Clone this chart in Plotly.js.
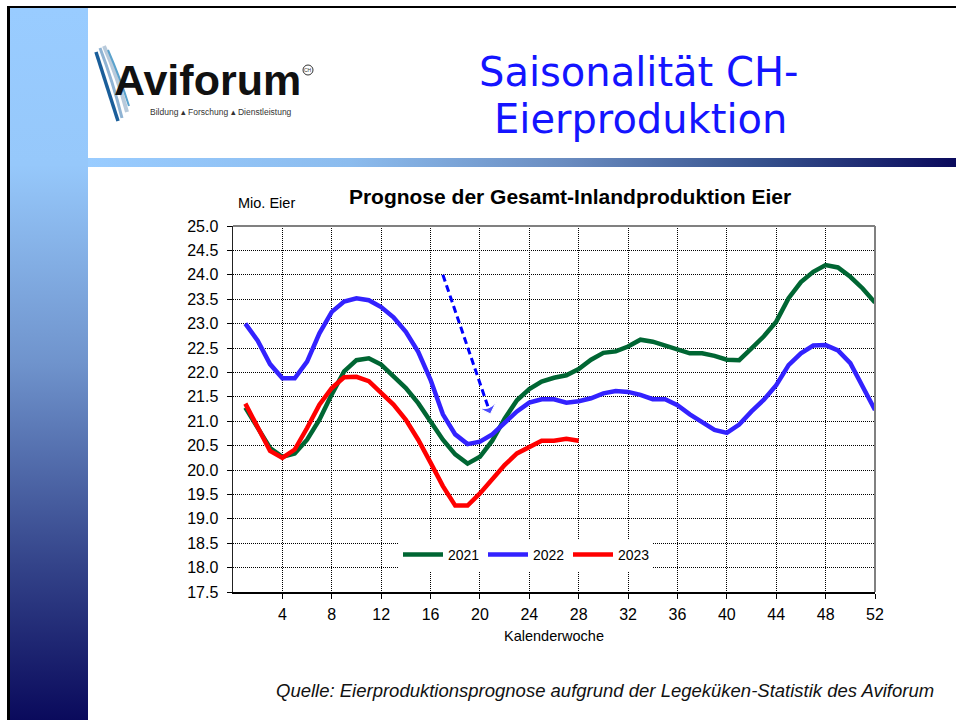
<!DOCTYPE html>
<html>
<head>
<meta charset="utf-8">
<script src="https://cdn.plot.ly/plotly-3.0.1.min.js"></script>
<style>
html,body{margin:0;padding:0;background:#fff;}
#wrap{position:relative;width:956px;height:720px;overflow:hidden;background:#fff;}
.deco{position:absolute;}
#plot{position:absolute;left:0;top:0;width:956px;height:720px;}
</style>
</head>
<body>
<div id="wrap">
  <div class="deco" style="left:7px;top:6px;width:949px;height:2px;background:#000;"></div>
  <div class="deco" style="left:7px;top:6px;width:3px;height:714px;background:#000;"></div>
  <div class="deco" style="left:10px;top:8px;width:78px;height:712px;background:linear-gradient(to bottom,#99ccff 0%,#96c8fb 22%,#6f93cc 50%,#34448a 78%,#0a0a5c 100%);"></div>
  <div class="deco" style="left:88px;top:158px;width:868px;height:9px;background:linear-gradient(to right,#99ccff 0%,#8cbcee 30%,#6a8cc0 55%,#35508c 78%,#0a0a5c 100%);"></div>
  <div id="plot"></div>
</div>
<script>
// ---- data ----
const weeks2021 = [1,2,3,4,5,6,7,8,9,10,11,12,13,14,15,16,17,18,19,20,21,22,23,24,25,26,27,28,29,30,31,32,33,34,35,36,37,38,39,40,41,42,43,44,45,46,47,48,49,50,51,52];
const values2021 = [21.28,20.86,20.45,20.27,20.34,20.62,21.03,21.55,22.02,22.25,22.29,22.16,21.93,21.68,21.37,21.00,20.62,20.32,20.13,20.27,20.60,21.05,21.43,21.66,21.81,21.89,21.94,22.07,22.26,22.40,22.43,22.53,22.67,22.63,22.55,22.47,22.39,22.39,22.34,22.26,22.25,22.49,22.74,23.04,23.52,23.85,24.06,24.20,24.15,23.96,23.72,23.43];

const weeks2022 = [1,2,3,4,5,6,7,8,9,10,11,12,13,14,15,16,17,18,19,20,21,22,23,24,25,26,27,28,29,30,31,32,33,34,35,36,37,38,39,40,41,42,43,44,45,46,47,48,49,50,51,52];
const values2022 = [23.00,22.65,22.17,21.88,21.88,22.22,22.80,23.24,23.45,23.52,23.48,23.34,23.13,22.83,22.42,21.85,21.14,20.73,20.53,20.58,20.73,20.95,21.20,21.38,21.45,21.45,21.38,21.41,21.47,21.57,21.62,21.60,21.54,21.45,21.45,21.33,21.14,20.98,20.82,20.76,20.93,21.20,21.44,21.74,22.15,22.39,22.55,22.56,22.45,22.19,21.71,21.23];

const weeks2023 = [1,2,3,4,5,6,7,8,9,10,11,12,13,14,15,16,17,18,19,20,21,22,23,24,25,26,27,28];
const values2023 = [21.36,20.88,20.39,20.25,20.42,20.86,21.34,21.68,21.90,21.91,21.82,21.58,21.34,21.03,20.62,20.15,19.67,19.27,19.27,19.52,19.82,20.10,20.34,20.48,20.60,20.60,20.64,20.60];

const seriesNames = ['2021','2022','2023'];
const xTickVals = [4,8,12,16,20,24,28,32,36,40,44,48,52];
const yTickVals = [17.5,18.0,18.5,19.0,19.5,20.0,20.5,21.0,21.5,22.0,22.5,23.0,23.5,24.0,24.5,25.0];
const arrowWeeks = [17, 20.85];
const arrowValues = [24.0, 21.15];

// ---- layout helpers (pixel -> paper, decoration only) ----
const L = 233, T = 226, W = 642, H = 366;
const px = x => (x - L) / W;
const py = y => (T + H - y) / H;

const colors = ['#006633', '#3322ff', '#ff0000'];

const traces = [
  {x: weeks2021, y: values2021, name: seriesNames[0], mode: 'lines', line: {color: colors[0], width: 4.5}},
  {x: weeks2022, y: values2022, name: seriesNames[1], mode: 'lines', line: {color: colors[1], width: 4.5}},
  {x: weeks2023, y: values2023, name: seriesNames[2], mode: 'lines', line: {color: colors[2], width: 4.5}},
  {x: arrowWeeks, y: arrowValues, mode: 'lines+markers', showlegend: false, hoverinfo: 'skip',
   line: {color: '#0000ff', width: 3, dash: '7px,4px'},
   marker: {symbol: ['circle', 'arrow-wide'], size: [0, 15], color: '#0000ff', angleref: 'previous'}}
];

function pth(pts) {
  return 'M ' + px(pts[0][0]) + ' ' + py(pts[0][1]) + ' Q ' + px(pts[1][0]) + ' ' + py(pts[1][1]) + ' ' + px(pts[2][0]) + ' ' + py(pts[2][1]);
}

const shapes = [
  // plot frame top & right (grey)
  {type: 'line', xref: 'paper', yref: 'paper', x0: 0, x1: 1, y0: 1, y1: 1, line: {color: '#808080', width: 2}},
  {type: 'line', xref: 'paper', yref: 'paper', x0: 1, x1: 1, y0: 0, y1: 1, line: {color: '#808080', width: 2}},
  // logo swooshes
  {type: 'path', xref: 'paper', yref: 'paper', path: pth([[104,46],[118,78],[127,112]]), line: {color: '#b8cadb', width: 4}},
  {type: 'path', xref: 'paper', yref: 'paper', path: pth([[100,48],[113,82],[122,118]]), line: {color: '#8fb3d3', width: 3}},
  {type: 'path', xref: 'paper', yref: 'paper', path: pth([[108,50],[121,80],[129,106]]), line: {color: '#5aa2cc', width: 2}},
  {type: 'path', xref: 'paper', yref: 'paper', path: pth([[96,52],[107,86],[118,121]]), line: {color: '#1a5e9a', width: 3.5}},
  {type: 'circle', xref: 'paper', yref: 'paper', x0: px(303), x1: px(313), y0: py(75), y1: py(65), line: {color: '#333', width: 1}}
];

const annotations = [
  {text: 'Saisonalität CH-', x: px(638), y: py(72), xref: 'paper', yref: 'paper', xanchor: 'center', yanchor: 'middle', showarrow: false,
   font: {family: '"DejaVu Sans", sans-serif', size: 40, color: '#1414ff'}},
  {text: 'Eierproduktion', x: px(640), y: py(119), xref: 'paper', yref: 'paper', xanchor: 'center', yanchor: 'middle', showarrow: false,
   font: {family: '"DejaVu Sans", sans-serif', size: 40, color: '#1414ff'}},
  {text: '<b>Aviforum</b>', x: px(112), y: py(80), xref: 'paper', yref: 'paper', xanchor: 'left', yanchor: 'middle', showarrow: false,
   font: {family: '"Liberation Sans", Arial, sans-serif', size: 43, color: '#111'}},
  {text: 'Bildung ▴ Forschung ▴ Dienstleistung', x: px(148), y: py(112), xref: 'paper', yref: 'paper', xanchor: 'left', yanchor: 'middle', showarrow: false,
   font: {family: '"Liberation Sans", sans-serif', size: 8.5, color: '#333'}},
  {text: 'CH', x: px(308), y: py(70), xref: 'paper', yref: 'paper', xanchor: 'center', yanchor: 'middle', showarrow: false,
   font: {family: '"Liberation Sans", sans-serif', size: 5, color: '#333'}},
  {text: 'Mio. Eier', x: px(236), y: py(203), xref: 'paper', yref: 'paper', xanchor: 'left', yanchor: 'middle', showarrow: false,
   font: {family: '"Liberation Sans", Arial, sans-serif', size: 14.5, color: '#000'}},
  {text: '<i>Quelle: Eierproduktionsprognose aufgrund der Legeküken-Statistik des Aviforum</i>', x: px(605), y: py(690), xref: 'paper', yref: 'paper', xanchor: 'center', yanchor: 'middle', showarrow: false,
   font: {family: '"Liberation Sans", Arial, sans-serif', size: 18.5, color: '#111'}}
];

const layout = {
  width: 956, height: 720,
  margin: {l: L, r: 956 - L - W, t: T, b: 720 - T - H, pad: 0},
  paper_bgcolor: 'rgba(0,0,0,0)',
  plot_bgcolor: '#ffffff',
  font: {family: '"Liberation Sans", Arial, sans-serif', color: '#000'},
  title: {text: '<b>Prognose der Gesamt-Inlandproduktion Eier</b>', x: 570 / 956, y: 1 - 197 / 720, xanchor: 'center', yanchor: 'middle',
          font: {family: '"Liberation Sans", Arial, sans-serif', size: 21, color: '#000'}},
  xaxis: {range: [0, 52], tickvals: xTickVals, ticktext: xTickVals.map(String), ticks: 'outside', ticklen: 5, tickcolor: '#000',
          showline: true, linecolor: '#000', linewidth: 1.5, showgrid: true, gridcolor: '#000', gridwidth: 1, griddash: '1px,1px',
          zeroline: false, tickfont: {size: 16}, automargin: false, ticklabelstandoff: 2,
          title: {text: 'Kalenderwoche', font: {size: 14.5}, standoff: 9}},
  yaxis: {range: [17.5, 25.0], tickvals: yTickVals, tickformat: '.1f', ticks: 'outside', ticklen: 5, tickcolor: '#000',
          showline: true, linecolor: '#222', linewidth: 1.5, showgrid: true, gridcolor: '#000', gridwidth: 1, griddash: '1px,1px',
          zeroline: false, tickfont: {size: 16}, automargin: false, ticklabelstandoff: 5},
  legend: {orientation: 'h', x: px(398), y: py(539), xanchor: 'left', yanchor: 'top', bgcolor: '#ffffff', font: {size: 14},
           tracegroupgap: 0, itemwidth: 40, entrywidth: 30},
  shapes: shapes,
  annotations: annotations,
  showlegend: true
};

Plotly.newPlot('plot', traces, layout, {displayModeBar: false, staticPlot: true});
</script>
</body>
</html>
